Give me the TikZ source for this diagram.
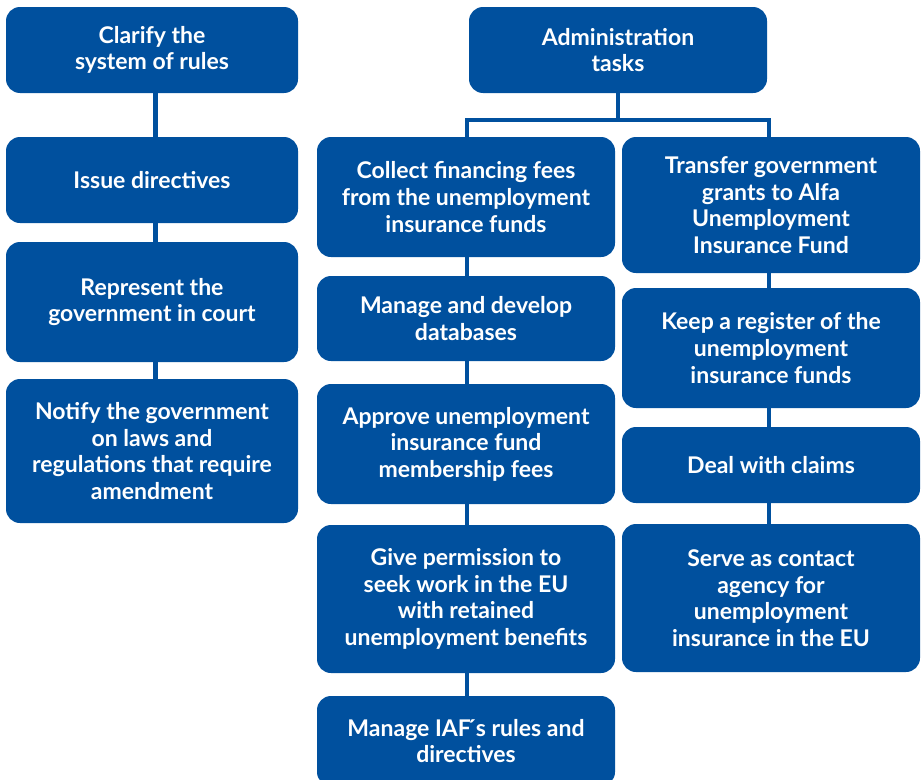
\documentclass[tikz,border=0pt]{standalone}
\usepackage{fontspec}
\setmainfont{Lato}
\definecolor{boxblue}{RGB}{0,80,158}
\tikzset{
  box/.style={fill=boxblue, draw=none, rounded corners=14pt, text=white,
    align=center, inner sep=0pt, font=\fontsize{23}{26.6}\selectfont\bfseries},
  link/.style={draw=boxblue, line width=4.5pt}
}
\begin{document}
\begin{tikzpicture}[x=1pt,y=-1pt]
\useasboundingbox (0,0) rectangle (923,779);
% left column
\node[box, minimum width=292pt, minimum height=86pt]  (clarify)   at (152,50)  {Clarify the\\system of rules};
\node[box, minimum width=292pt, minimum height=86pt]  (issue)     at (152,180) {Issue directives};
\node[box, minimum width=292pt, minimum height=120pt] (represent) at (152,302) {Represent the\\government in court};
\node[box, minimum width=292pt, minimum height=144pt] (notify)    at (152,451) {Notify the government\\on laws and\\regulations that require\\amendment};
% admin
\node[box, minimum width=298pt, minimum height=86pt]  (admin)     at (618,50)  {Administration\\tasks};
% middle column
\node[box, minimum width=298pt, minimum height=120pt] (collect)   at (466,197) {Collect financing fees\\from the unemployment\\insurance funds};
\node[box, minimum width=298pt, minimum height=85pt]  (managedb)  at (466,318.5) {Manage and develop\\databases};
\node[box, minimum width=298pt, minimum height=120pt] (approve)   at (466,444) {Approve unemployment\\insurance fund\\membership fees};
\node[box, minimum width=298pt, minimum height=148pt] (permit)    at (466,599) {Give permission to\\seek work in the EU\\with retained\\unemployment benefits};
\node[box, minimum width=298pt, minimum height=90pt]  (iaf)       at (466,741) {Manage IAF\'{}s rules and\\directives};
% right column
\node[box, minimum width=298pt, minimum height=136pt] (transfer)  at (771,205) {Transfer government\\grants to Alfa\\Unemployment\\Insurance Fund};
\node[box, minimum width=298pt, minimum height=120pt] (register)  at (771,348) {Keep a register of the\\unemployment\\insurance funds};
\node[box, minimum width=298pt, minimum height=76pt]  (claims)    at (771,465) {Deal with claims};
\node[box, minimum width=298pt, minimum height=148pt] (contact)   at (771,598) {Serve as contact\\agency for\\unemployment\\insurance in the EU};
% connector columns
\coordinate (lx) at (155.5,0);
\coordinate (mx) at (467,0);
\coordinate (rx) at (769,0);
\coordinate (ax) at (618,0);
\coordinate (bar) at (0,120);
% left connectors
\draw[link] (clarify.south -| lx) -- (issue.north -| lx);
\draw[link] (issue.south -| lx) -- (represent.north -| lx);
\draw[link] (represent.south -| lx) -- (notify.north -| lx);
% admin fork
\draw[link] (admin.south -| ax) -- (ax |- bar);
\draw[link] (collect.north -| mx) -- (mx |- bar) -- (rx |- bar) -- (transfer.north -| rx);
% middle connectors
\draw[link] (collect.south -| mx) -- (managedb.north -| mx);
\draw[link] (managedb.south -| mx) -- (approve.north -| mx);
\draw[link] (approve.south -| mx) -- (permit.north -| mx);
\draw[link] (permit.south -| mx) -- (iaf.north -| mx);
% right connectors
\draw[link] (transfer.south -| rx) -- (register.north -| rx);
\draw[link] (register.south -| rx) -- (claims.north -| rx);
\draw[link] (claims.south -| rx) -- (contact.north -| rx);
\end{tikzpicture}
\end{document}
